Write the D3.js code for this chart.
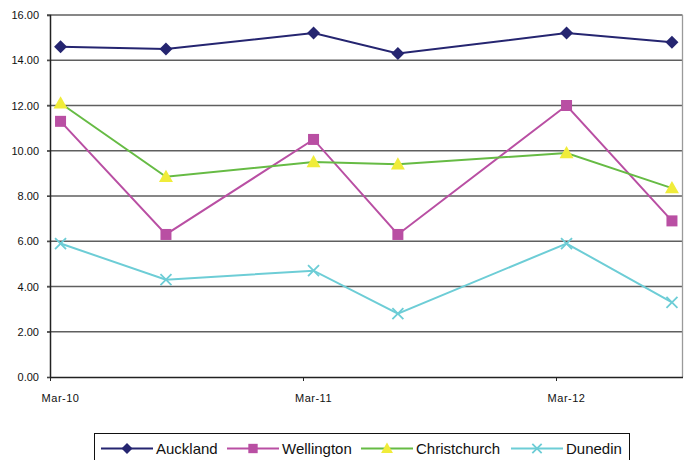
<!DOCTYPE html>
<html>
<head>
<meta charset="utf-8">
<script src="https://cdn.jsdelivr.net/npm/d3@7/dist/d3.min.js"></script>
<style>
  html, body { margin: 0; padding: 0; background: #fff; }
  svg { display: block; font-family: "Liberation Sans", Arial, sans-serif; }
</style>
</head>
<body>
<svg id="chart" width="692" height="460"></svg>
<script>
// Observation months (year, month index 0-11)
const months = [[2010, 2], [2010, 7], [2011, 2], [2011, 6], [2012, 2], [2012, 7]];
const auckland     = [14.6, 14.5, 15.2, 14.3, 15.2, 14.8];
const wellington   = [11.3, 6.3, 10.5, 6.3, 12.0, 6.9];
const christchurch = [12.1, 8.85, 9.5, 9.4, 9.9, 8.35];
const dunedin      = [5.9, 4.3, 4.7, 2.8, 5.9, 3.3];
const seriesNames  = ["Auckland", "Wellington", "Christchurch", "Dunedin"];
const yTicks       = [0, 2, 4, 6, 8, 10, 12, 14, 16];
const xTickMonths  = [[2010, 2], [2011, 2], [2012, 2]];
const xTickLabels  = ["Mar-10", "Mar-11", "Mar-12"];

const seriesValues = [auckland, wellington, christchurch, dunedin];
const styles = [
  { line: "#252570", fill: "#252570", marker: "diamond" },
  { line: "#B94FA3", fill: "#B94FA3", marker: "square" },
  { line: "#66BB44", fill: "#F0EC3A", marker: "triangle" },
  { line: "#6DCDD6", fill: "none",    marker: "cross" }
];

const svg = d3.select("#chart");
const plotLeft = 50, plotRight = 682.5, plotTop = 15, plotBottom = 377;

// Month units counted from March 2010; each month is one equal slot
const monthIndex = ([yr, m]) => (yr - 2010) * 12 + (m - 2);
const x = d3.scaleLinear().domain([0, 30]).range([plotLeft, plotRight]);
const xMid = d => x(monthIndex(d) + 0.5);
const y = d3.scaleLinear().domain([0, 16]).range([plotBottom, plotTop]);

// Horizontal gridlines
svg.append("g")
  .selectAll("line")
  .data(yTicks.slice(1))
  .join("line")
  .attr("x1", plotLeft - 3).attr("x2", plotRight)
  .attr("y1", d => y(d)).attr("y2", d => y(d))
  .attr("stroke", "#5f5f5f").attr("stroke-width", 1.3);

// Gray right border of the plot area
svg.append("line").attr("x1", plotRight).attr("x2", plotRight).attr("y1", plotTop).attr("y2", plotBottom)
  .attr("stroke", "#9a9a9a").attr("stroke-width", 1.3);

// Y axis
const yAxis = d3.axisLeft(y).tickValues(yTicks).tickFormat(d3.format(".2f")).tickSize(3).tickPadding(8);
const gy = svg.append("g").attr("transform", `translate(${plotLeft},0)`).call(yAxis);
gy.select(".domain").attr("stroke", "#222").attr("stroke-width", 1.5);
gy.selectAll(".tick line").attr("stroke", "#444");
gy.selectAll("text").attr("font-size", 11).attr("fill", "#111");

// X axis: ticks at the start of each March, labels centred on the month
const xAxis = d3.axisBottom(x).tickValues(xTickMonths.map(monthIndex)).tickFormat("").tickSize(4).tickSizeOuter(0);
const gx = svg.append("g").attr("transform", `translate(0,${plotBottom})`).call(xAxis);
gx.select(".domain").attr("stroke", "#222").attr("stroke-width", 1.5);
gx.selectAll(".tick line").attr("stroke", "#222");
svg.append("g")
  .selectAll("text")
  .data(xTickMonths)
  .join("text")
  .attr("x", d => xMid(d))
  .attr("y", 402)
  .attr("text-anchor", "middle")
  .attr("font-size", 11)
  .attr("letter-spacing", 0.5)
  .attr("fill", "#111")
  .text((d, i) => xTickLabels[i]);

// Marker shapes
function drawMarker(g, kind, cx, cy, st, scale = 1) {
  if (kind === "diamond") {
    const r = 6.5 * scale;
    g.append("path").attr("d", `M${cx},${cy - r}L${cx + r},${cy}L${cx},${cy + r}L${cx - r},${cy}Z`)
      .attr("fill", st.fill);
  } else if (kind === "square") {
    const h = 5.5 * scale;
    g.append("rect").attr("x", cx - h).attr("y", cy - h).attr("width", 2 * h).attr("height", 2 * h)
      .attr("fill", st.fill);
  } else if (kind === "triangle") {
    const h = 7 * scale;
    g.append("path").attr("d", `M${cx},${cy - h}L${cx + h},${cy + h * 0.75}L${cx - h},${cy + h * 0.75}Z`)
      .attr("fill", st.fill);
  } else {
    const h = 5.5 * scale;
    g.append("path").attr("d", `M${cx - h},${cy - h}L${cx + h},${cy + h}M${cx - h},${cy + h}L${cx + h},${cy - h}`)
      .attr("stroke", st.line).attr("stroke-width", 1.8).attr("fill", "none");
  }
}

const line = d3.line().x((d, i) => xMid(months[i])).y(d => y(d));

seriesValues.forEach((vals, si) => {
  const st = styles[si];
  const g = svg.append("g");
  g.append("path").datum(vals).attr("d", line)
    .attr("fill", "none").attr("stroke", st.line).attr("stroke-width", 2);
  vals.forEach((v, i) => drawMarker(g, st.marker, xMid(months[i]), y(v), st));
});

// Legend
const legend = svg.append("g");
legend.append("rect").attr("x", 94.5).attr("y", 433.5).attr("width", 535).attr("height", 30)
  .attr("fill", "#fff").attr("stroke", "#111").attr("stroke-width", 1);
const legendX = [101, 227, 361, 511];
seriesNames.forEach((name, i) => {
  const st = styles[i];
  const lx = legendX[i], ly = 448.5;
  legend.append("line").attr("x1", lx).attr("x2", lx + 52).attr("y1", ly).attr("y2", ly)
    .attr("stroke", st.line).attr("stroke-width", 2);
  drawMarker(legend, st.marker, lx + 26, ly, st, 0.85);
  legend.append("text").attr("x", lx + 55).attr("y", ly + 5.5)
    .attr("font-size", 15).attr("fill", "#111").text(name);
});
</script>
</body>
</html>
